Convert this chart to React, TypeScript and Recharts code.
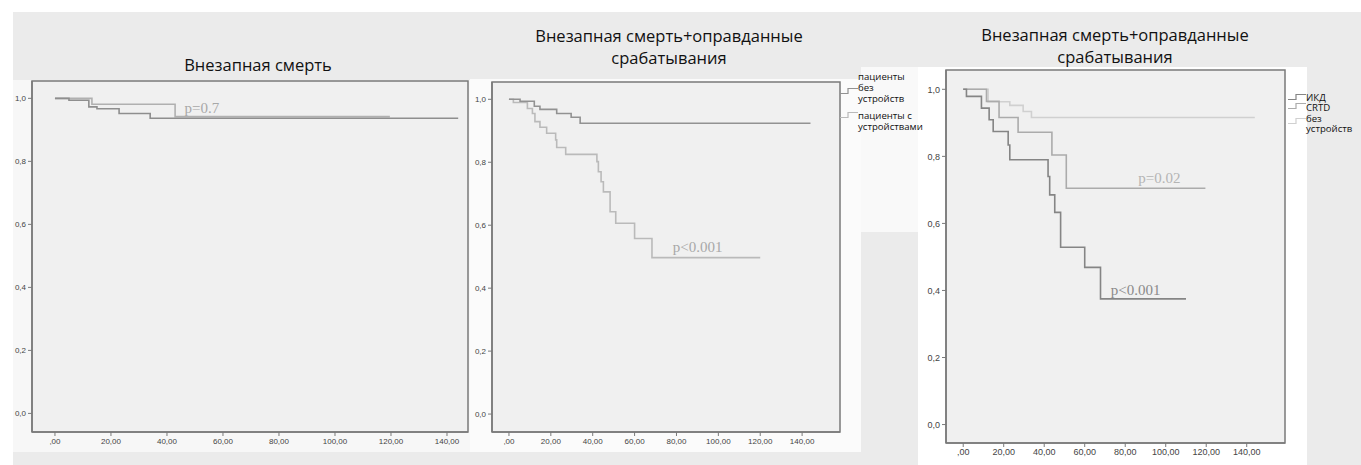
import React from "react";
import { LineChart, Line, XAxis, YAxis, CartesianGrid, ReferenceArea, ReferenceDot } from "recharts";

// months of follow-up / cumulative survival
const p1LineA_t = [0, 5, 12.1, 15, 22.9, 34, 144];
const p1LineA_s = [1, 0.994, 0.973, 0.967, 0.952, 0.937, 0.937];
const p1LineB_t = [0, 13.2, 42.9, 119.6];
const p1LineB_s = [1, 0.981, 0.942, 0.942];

const p2NoDevice_t = [0, 5.3, 12.1, 14.8, 22.8, 29.7, 34, 144];
const p2NoDevice_s = [1, 0.994, 0.978, 0.968, 0.955, 0.943, 0.924, 0.924];
const p2Device_t = [0, 2.1, 8.8, 11.2, 12.4, 14.8, 18, 22.3, 22.8, 27.1, 42, 42.7, 44, 45.1, 48.3, 51, 60, 68.3, 120];
const p2Device_s = [1, 0.99, 0.971, 0.955, 0.929, 0.911, 0.892, 0.871, 0.847, 0.825, 0.802, 0.77, 0.738, 0.706, 0.643, 0.606, 0.558, 0.497, 0.497];

const p3Icd_t = [0, 1.6, 9, 12.8, 14.8, 22.2, 23, 41.9, 42.7, 45.2, 48.1, 60, 67.8, 110];
const p3Icd_s = [1, 0.979, 0.944, 0.909, 0.874, 0.834, 0.79, 0.74, 0.685, 0.633, 0.529, 0.469, 0.375, 0.375];
const p3Crtd_t = [0, 11.5, 17.7, 27.1, 43.8, 50.9, 119.6];
const p3Crtd_s = [1, 0.964, 0.916, 0.872, 0.804, 0.705, 0.705];
const p3None_t = [0, 12.3, 23, 29.6, 33.7, 144];
const p3None_s = [1, 0.963, 0.952, 0.934, 0.916, 0.916];

const xTicks = [0, 20, 40, 60, 80, 100, 120, 140];
const xTickLabels = [",00", "20,00", "40,00", "60,00", "80,00", "100,00", "120,00", "140,00"];
const yTicks = [0, 0.2, 0.4, 0.6, 0.8, 1];
const yTickLabels = ["0,0", "0,2", "0,4", "0,6", "0,8", "1,0"];

const zip = (t: number[], s: number[]) => t.map((v, i) => ({ t: v, s: s[i] }));

const AXIS = "#7a7a7a";
const SANS = "'Open Sans', 'Noto Sans', sans-serif";
const SERIF = "'Liberation Serif', 'DejaVu Serif', serif";
const TICKFONT = "'Liberation Sans', Arial, sans-serif";

type Series = { t: number[]; s: number[]; color: string };
type Note = { t: number; s: number; text: string; color: string };

function KMChart(props: {
  left: number; top: number; width: number; height: number; bg: string;
  margin: { top: number; right: number; left: number; bottom: number };
  yAxisWidth: number; xAxisHeight: number;
  xDomain: [number, number]; yDomain: [number, number];
  tickSize: number; series: Series[]; notes: Note[];
}) {
  const { left, top, width, height, bg, margin, yAxisWidth, xAxisHeight, xDomain, yDomain, tickSize, series, notes } = props;
  return (
    <div style={{ position: "absolute", left, top, width, height, background: bg }}>
      <LineChart width={width} height={height} margin={margin}>
        <CartesianGrid horizontal={false} vertical={false} fill="#f0f0f0" />
        <XAxis
          type="number"
          dataKey="t"
          domain={xDomain}
          ticks={xTicks}
          interval={0}
          allowDataOverflow
          height={xAxisHeight}
          tickSize={4}
          tickFormatter={(v: number) => xTickLabels[xTicks.indexOf(v)]}
          tick={{ fill: "#444", fontSize: tickSize, fontFamily: TICKFONT }}
          axisLine={{ stroke: AXIS, strokeWidth: 1.5 }}
          tickLine={{ stroke: AXIS }}
        />
        <YAxis
          type="number"
          domain={yDomain}
          ticks={yTicks}
          interval={0}
          allowDataOverflow
          width={yAxisWidth}
          tickSize={4}
          tickFormatter={(v: number) => yTickLabels[yTicks.indexOf(v)]}
          tick={{ fill: "#444", fontSize: tickSize, fontFamily: TICKFONT }}
          axisLine={{ stroke: AXIS, strokeWidth: 1.5 }}
          tickLine={{ stroke: AXIS }}
        />
        <ReferenceArea
          x1={xDomain[0]} x2={xDomain[1]} y1={yDomain[0]} y2={yDomain[1]}
          fill="none" stroke={AXIS} strokeWidth={1.5} ifOverflow="visible"
        />
        {series.map((sr, i) => (
          <Line
            key={i}
            data={zip(sr.t, sr.s)}
            dataKey="s"
            type="stepAfter"
            stroke={sr.color}
            strokeWidth={1.6}
            dot={false}
            activeDot={false}
            isAnimationActive={false}
          />
        ))}
        {notes.map((n, i) => (
          <ReferenceDot
            key={"n" + i}
            x={n.t}
            y={n.s}
            r={0}
            fill="none"
            stroke="none"
            label={{ value: n.text, position: "center", fill: n.color, fontSize: 15, fontFamily: SERIF }}
          />
        ))}
      </LineChart>
    </div>
  );
}

function StepIcon({ color }: { color: string }) {
  return (
    <svg width={18} height={8} style={{ display: "block" }}>
      <polyline points="0,6.5 8,6.5 8,1.5 18,1.5" fill="none" stroke={color} strokeWidth={1.2} />
    </svg>
  );
}

function LegendBlock(props: {
  left: number; top: number; lineHeight: number;
  items: { label: string[]; color: string; iconTop: number; gap: number }[];
}) {
  return (
    <div style={{ position: "absolute", left: props.left, top: props.top, fontFamily: SANS, fontSize: 9.6, lineHeight: props.lineHeight + "px", color: "#111", zIndex: 5 }}>
      {props.items.map((it, i) => (
        <div key={i} style={{ position: "relative", paddingLeft: 18, marginTop: it.gap }}>
          <div style={{ position: "absolute", left: 0, top: it.iconTop }}>
            <StepIcon color={it.color} />
          </div>
          {it.label.map((l, j) => (
            <div key={j} style={{ whiteSpace: "nowrap" }}>{l}</div>
          ))}
        </div>
      ))}
    </div>
  );
}

const titleStyle: React.CSSProperties = {
  position: "absolute",
  textAlign: "center",
  fontFamily: SANS,
  fontSize: 16.5,
  lineHeight: "22px",
  color: "#111",
  whiteSpace: "nowrap",
};

export default function App() {
  return (
    <div style={{ position: "absolute", left: 0, top: 0, width: 1361, height: 465, background: "#fff", overflow: "hidden" }}>
      <div style={{ position: "absolute", left: 13, top: 12, width: 1348, height: 453, background: "#ebebeb" }} />

      <div style={{ ...titleStyle, left: 108, top: 54, width: 300 }}>Внезапная смерть</div>
      <div style={{ ...titleStyle, left: 519, top: 25, width: 300 }}>
        Внезапная смерть+оправданные<br />срабатывания
      </div>
      <div style={{ ...titleStyle, left: 965, top: 24, width: 300 }}>
        Внезапная смерть+оправданные<br />срабатывания
      </div>

      <KMChart
        left={13} top={80} width={457} height={372} bg="#f7f7f7"
        margin={{ top: 1, right: 2, left: 0, bottom: 0 }}
        yAxisWidth={19} xAxisHeight={20}
        xDomain={[-8.2, 147.5]} yDomain={[-0.059, 1.055]}
        tickSize={8}
        series={[
          { t: p1LineB_t, s: p1LineB_s, color: "#b0b0b0" },
          { t: p1LineA_t, s: p1LineA_s, color: "#8e8e8e" },
        ]}
        notes={[{ t: 52.5, s: 0.97, text: "p=0.7", color: "#a8a8a8" }]}
      />

      <div style={{ position: "absolute", left: 861, top: 67, width: 57, height: 165, background: "#f9f9f9" }} />
      <KMChart
        left={470} top={79} width={391} height={373} bg="#fbfbfb"
        margin={{ top: 3, right: 21, left: 0, bottom: 0 }}
        yAxisWidth={22} xAxisHeight={20}
        xDomain={[-8.1, 158.1]} yDomain={[-0.057, 1.055]}
        tickSize={8}
        series={[
          { t: p2Device_t, s: p2Device_s, color: "#bababa" },
          { t: p2NoDevice_t, s: p2NoDevice_s, color: "#929292" },
        ]}
        notes={[{ t: 90.1, s: 0.532, text: "p<0.001", color: "#a8a8a8" }]}
      />

      <KMChart
        left={918} top={67} width={389} height={398} bg="#ffffff"
        margin={{ top: 3, right: 22, left: 0, bottom: 0 }}
        yAxisWidth={28} xAxisHeight={22}
        xDomain={[-8.5, 158.9]} yDomain={[-0.055, 1.0576]}
        tickSize={9}
        series={[
          { t: p3None_t, s: p3None_s, color: "#d0d0d0" },
          { t: p3Crtd_t, s: p3Crtd_s, color: "#ababab" },
          { t: p3Icd_t, s: p3Icd_s, color: "#858585" },
        ]}
        notes={[
          { t: 96.9, s: 0.735, text: "p=0.02", color: "#b4b4b4" },
          { t: 85.1, s: 0.403, text: "p<0.001", color: "#8a8a8a" },
        ]}
      />

      <LegendBlock
        left={840}
        top={70.5}
        lineHeight={11}
        items={[
          { label: ["пациенты", "без", "устройств"], color: "#929292", iconTop: 16, gap: 0 },
          { label: ["пациенты с", "устройствами"], color: "#bababa", iconTop: 1, gap: 6 },
        ]}
      />
      <LegendBlock
        left={1288}
        top={92.5}
        lineHeight={10.5}
        items={[
          { label: ["ИКД"], color: "#858585", iconTop: 0, gap: 0 },
          { label: ["CRTD"], color: "#ababab", iconTop: -1, gap: 0 },
          { label: ["без", "устройств"], color: "#d0d0d0", iconTop: 3.5, gap: 0 },
        ]}
      />
    </div>
  );
}
